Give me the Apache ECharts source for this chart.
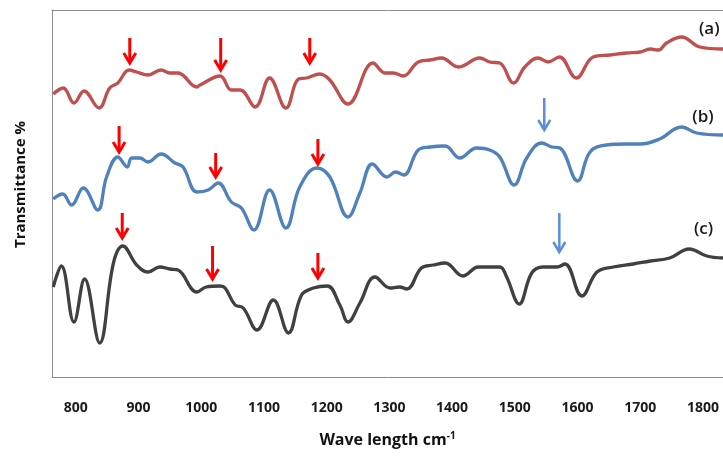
<!DOCTYPE html>
<html>
<head>
<meta charset="utf-8">
<script src="https://cdn.jsdelivr.net/npm/echarts@6/dist/echarts.min.js"></script>
<style>
html,body{margin:0;padding:0;background:#fff;}
#chart{width:723px;height:456px;}
</style>
</head>
<body>
<div id="chart"></div>
<script>
// x: wavenumber (cm-1), y: relative transmittance (arbitrary units, offset traces)
const xTickValues = [800, 900, 1000, 1100, 1200, 1300, 1400, 1500, 1600, 1700, 1800];

const spectrumA = [
  [764,283],[780,289],[797,274],[813,286],[837,269],[854,289],[867,294],[885,307],[897,305],
  [915,302],[936,307],[950,304],[963,304],[993,290],[998,292],[1030,301],[1048,287],[1062,287],
  [1086,270],[1109,299],[1135,269],[1155,298],[1168,299],[1189,303],[1205,297],[1234,273],
  [1274,314],[1293,304],[1306,304],[1322,301],[1346,315],[1365,317],[1383,319],[1410,310],
  [1444,319],[1460,315],[1476,314],[1498,294],[1516,310],[1537,319],[1553,315],[1571,320],
  [1598,299],[1625,320],[1652,322],[1678,324],[1700,325],[1716,328],[1729,327],[1742,334],
  [1766,340],[1795,330],[1832,328]
];

const spectrumB = [
  [764,178],[779,183],[793,172],[812,189],[835,167],[849,200],[867,220],[882,210],[889,219],
  [902,219],[915,215],[936,223],[958,214],[971,210],[993,185],[1011,187],[1027,194],[1048,175],
  [1064,169],[1084,147],[1109,187],[1135,149],[1157,190],[1184,209],[1205,200],[1234,160],
  [1253,184],[1273,213],[1296,200],[1310,205],[1323,202],[1346,227],[1365,230],[1389,231],
  [1412,219],[1439,229],[1460,227],[1476,220],[1499,192],[1519,219],[1543,234],[1559,230],
  [1572,229],[1600,196],[1620,225],[1646,232],[1678,233],[1700,233],[1731,238],[1766,250],
  [1790,244],[1832,242]
];

const spectrumC = [
  [764,90],[777,111],[797,55],[814,98],[838,34],[860,114],[875,131],[897,112],[915,105],
  [934,110],[950,108],[963,107],[993,85],[1008,90],[1030,91],[1038,89],[1054,72],[1067,69],
  [1089,47],[1115,77],[1139,44],[1160,82],[1179,89],[1201,91],[1221,72],[1234,55],[1253,74],
  [1277,100],[1301,89],[1316,90],[1328,88],[1351,109],[1370,112],[1389,114],[1417,101],
  [1442,110],[1476,110],[1487,100],[1507,73],[1527,104],[1545,110],[1567,110],[1580,113],
  [1607,81],[1631,105],[1657,110],[1689,113],[1716,116],[1747,119],[1778,128],[1806,121],
  [1832,119]
];

// arrows: [wavenumber, top value, tip value]
const redArrows = [
  [886,339,314],[1031,339,307],[1173,339,314],
  [869,251,225],[1023,224,200],[1186,238,213],
  [874,164,139],[1018,131,98],[1186,124,99]
];
const blueArrows = [
  [1547,279,247],[1571,164,125]
];

const traceLabels = ['(a)', '(b)', '(c)'];
const traceLabelPos = [[1810,348],[1800,260],[1801,148]];

const chart = echarts.init(document.getElementById('chart'), null, {renderer:'canvas'});

function arrowRenderer(color, lw) {
  return function (params, api) {
    const p1 = api.coord([api.value(0), api.value(1)]);
    const p2 = api.coord([api.value(0), api.value(2)]);
    return {
      type: 'group',
      children: [
        {type:'line', shape:{x1:p1[0], y1:p1[1], x2:p2[0], y2:p2[1]-1},
         style:{stroke:color, lineWidth:lw}},
        {type:'polyline', shape:{points:[[p2[0]-6,p2[1]-10],[p2[0],p2[1]],[p2[0]+6,p2[1]-10]]},
         style:{stroke:color, lineWidth:lw, fill:null, lineJoin:'miter'}}
      ]
    };
  };
}

const axisGray = '#8c8c8c';
const option = {
  animation: false,
  backgroundColor: '#ffffff',
  grid: {left:52, top:10, right:0, bottom:79, show:false},
  xAxis: [{
    type:'value', min:762, max:1832,
    axisLine:{show:true, lineStyle:{color:axisGray, width:1}}, axisTick:{show:false}, splitLine:{show:false},
    axisLabel:{customValues:xTickValues, margin:24, fontSize:14, fontWeight:'bold',
               fontFamily:'Open Sans', color:'#1a1a1a', formatter:function(v){return String(v);}},
    name:'Wave length cm{sup|-1}', nameLocation:'middle', nameGap:54,
    nameTextStyle:{fontSize:16, fontWeight:'bold', fontFamily:'Open Sans', color:'#111',
      rich:{sup:{fontSize:10, fontWeight:'bold', fontFamily:'Open Sans', color:'#111', verticalAlign:'top', padding:[0,0,8,0]}}}
  },{
    type:'value', position:'top', min:762, max:1832,
    axisLine:{show:true, onZero:false, lineStyle:{color:axisGray, width:1}}, axisTick:{show:false},
    splitLine:{show:false}, axisLabel:{show:false}
  }],
  yAxis: {
    type:'value', min:0, max:367,
    axisLine:{show:true, lineStyle:{color:axisGray, width:1}}, axisTick:{show:false}, splitLine:{show:false}, axisLabel:{show:false},
    name:'Transmittance %', nameLocation:'middle', nameGap:24, nameRotate:90,
    nameTextStyle:{fontSize:15, fontWeight:'bold', fontFamily:'Open Sans', color:'#111', padding:[0,0,0,18]}
  },
  series: [
    {type:'line', data:spectrumA, smooth:0.4, showSymbol:false, lineStyle:{color:'#C0504D', width:3.3}},
    {type:'line', data:spectrumB, smooth:0.4, showSymbol:false, lineStyle:{color:'#4F81BD', width:3.3}},
    {type:'line', data:spectrumC, smooth:0.4, showSymbol:false, lineStyle:{color:'#404040', width:3.3}},
    {type:'custom', data:redArrows, encode:{x:0, y:[1,2]}, renderItem:arrowRenderer('#FF0000', 3), z:5},
    {type:'custom', data:blueArrows, encode:{x:0, y:[1,2]}, renderItem:arrowRenderer('#5A8FD8', 2.5), z:5},
    {type:'custom', data:traceLabelPos, encode:{x:0, y:1}, z:6, clip:false,
     renderItem:function(params, api){
       const p = api.coord([api.value(0), api.value(1)]);
       return {type:'text', x:p[0], y:p[1],
         style:{text:traceLabels[params.dataIndex], fontSize:17, fontWeight:600, fontFamily:'Open Sans',
                fill:'#1a1a1a', align:'center', verticalAlign:'middle'}};
     }}
  ]
};
chart.setOption(option);
</script>
</body>
</html>
